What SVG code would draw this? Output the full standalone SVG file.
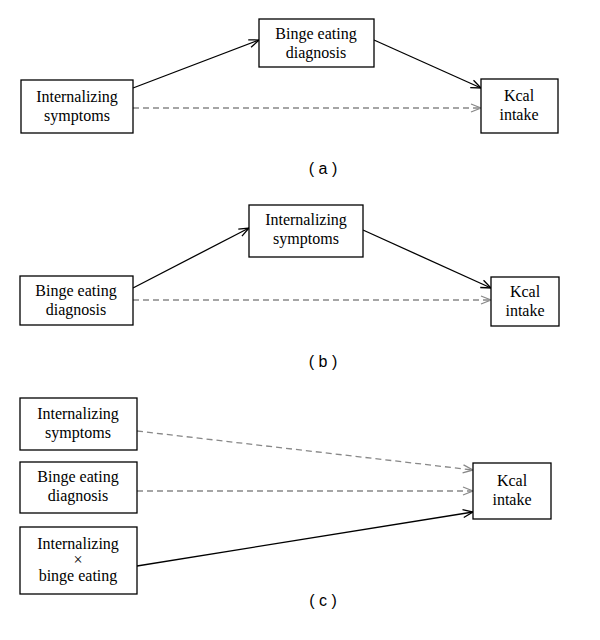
<svg xmlns="http://www.w3.org/2000/svg" width="600" height="640" viewBox="0 0 600 640">
<style>
.b{fill:#fff;stroke:#000;stroke-width:1.3}
.t{font-family:"Liberation Serif",serif;font-size:16px;text-anchor:middle}
.l{font-family:"Liberation Sans",sans-serif;font-size:16px;text-anchor:middle}
.s{stroke:#000;stroke-width:1.3;fill:none;marker-end:url(#as)}
.d{stroke:#888;stroke-width:1.3;fill:none;stroke-dasharray:6,4;marker-end:url(#ad)}
</style>
<defs>
<marker id="as" markerWidth="12" markerHeight="10" refX="11" refY="5" orient="auto" markerUnits="userSpaceOnUse"><path d="M1,1 L11,5 L1,9" fill="none" stroke="#000" stroke-width="1.3"/></marker>
<marker id="ad" markerWidth="12" markerHeight="10" refX="11" refY="5" orient="auto" markerUnits="userSpaceOnUse"><path d="M1,1 L11,5 L1,9" fill="none" stroke="#888" stroke-width="1.3"/></marker>
</defs>
<rect width="600" height="640" fill="#fff"/>
<g id="connectors">
<line class="s" x1="133" y1="88" x2="259" y2="40"/>
<line class="s" x1="374" y1="40" x2="481" y2="88"/>
<line class="d" x1="133" y1="108" x2="481" y2="108"/>
<line class="s" x1="133" y1="288" x2="249" y2="228"/>
<line class="s" x1="363" y1="230" x2="491" y2="288"/>
<line class="d" x1="133" y1="300" x2="491" y2="300"/>
<line class="d" x1="137" y1="431" x2="473" y2="470"/>
<line class="d" x1="137" y1="491" x2="473" y2="491"/>
<line class="s" x1="137" y1="566" x2="473" y2="512"/>
</g>
<g id="a_int"><rect class="b" x="21" y="80" width="112" height="53"/><text class="t" x="77" y="102">Internalizing</text><text class="t" x="77" y="121">symptoms</text></g>
<g id="a_binge"><rect class="b" x="259" y="19" width="115" height="48"/><text class="t" x="316" y="39">Binge eating</text><text class="t" x="316" y="58">diagnosis</text></g>
<g id="a_kcal"><rect class="b" x="481" y="79" width="77" height="54"/><text class="t" x="519" y="101">Kcal</text><text class="t" x="519" y="120">intake</text></g>
<text class="l" x="323" y="174">( a )</text>
<g id="b_binge"><rect class="b" x="20" y="276" width="113" height="49"/><text class="t" x="76" y="296">Binge eating</text><text class="t" x="76" y="315">diagnosis</text></g>
<g id="b_int"><rect class="b" x="249" y="205" width="114" height="52"/><text class="t" x="306" y="225">Internalizing</text><text class="t" x="306" y="244">symptoms</text></g>
<g id="b_kcal"><rect class="b" x="491" y="277" width="68" height="49"/><text class="t" x="525" y="297">Kcal</text><text class="t" x="525" y="316">intake</text></g>
<text class="l" x="323" y="367">( b )</text>
<g id="c_int"><rect class="b" x="20" y="398" width="117" height="52"/><text class="t" x="78" y="419">Internalizing</text><text class="t" x="78" y="438">symptoms</text></g>
<g id="c_binge"><rect class="b" x="20" y="462" width="117" height="51"/><text class="t" x="78" y="482">Binge eating</text><text class="t" x="78" y="501">diagnosis</text></g>
<g id="c_inter"><rect class="b" x="20" y="527" width="117" height="67"/><text class="t" x="78" y="549">Internalizing</text><text class="t" x="78" y="565">×</text><text class="t" x="78" y="581">binge eating</text></g>
<g id="c_kcal"><rect class="b" x="473" y="463" width="78" height="56"/><text class="t" x="512" y="486">Kcal</text><text class="t" x="512" y="505">intake</text></g>
<text class="l" x="323" y="606">( c )</text>
</svg>
